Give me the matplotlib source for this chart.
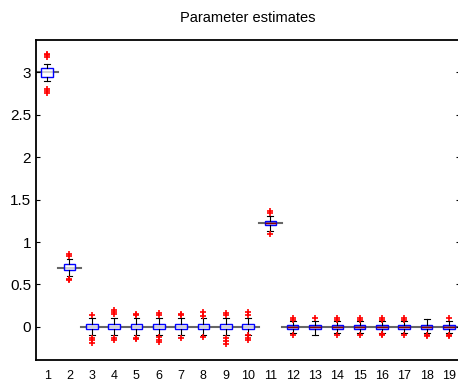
import numpy as np
import matplotlib
matplotlib.use('Agg')
from matplotlib import pyplot as plt

plt.rcParams['font.family'] = ['Liberation Sans', 'DejaVu Sans']

# parameter index, true value and box statistics
params = list(range(1, 20))
true_vals = [3.0, 0.7] + [0.0] * 8 + [1.22] + [0.0] * 8
medians = [3.0, 0.705, 0.0, 0.0, 0.0, 0.0, 0.0, 0.0, 0.0, 0.0,
           1.22, 0.0, 0.0, 0.0, 0.0, 0.0, 0.0, 0.0, 0.0]
q1 = [2.95, 0.665, -0.03, -0.03, -0.03, -0.03, -0.03, -0.03, -0.03, -0.03,
      1.195, -0.02, -0.02, -0.02, -0.02, -0.02, -0.02, -0.02, -0.02]
q3 = [3.05, 0.745, 0.03, 0.03, 0.03, 0.03, 0.03, 0.03, 0.03, 0.03,
      1.25, 0.02, 0.02, 0.02, 0.02, 0.02, 0.02, 0.02, 0.02]
wlo = [2.9, 0.6, -0.1, -0.1, -0.1, -0.1, -0.1, -0.1, -0.1, -0.1,
       1.13, -0.07, -0.09, -0.07, -0.07, -0.07, -0.07, -0.07, -0.07]
whi = [3.1, 0.8, 0.1, 0.1, 0.1, 0.1, 0.1, 0.1, 0.1, 0.1,
       1.31, 0.07, 0.07, 0.07, 0.07, 0.07, 0.07, 0.09, 0.07]
fliers = [
    [3.18, 3.2, 3.22, 2.8, 2.78, 2.76],
    [0.83, 0.86, 0.57, 0.55],
    [0.14, -0.13, -0.16, -0.19],
    [0.15, 0.17, 0.2, -0.13, -0.15],
    [0.14, 0.15, -0.13, -0.14],
    [0.14, 0.16, -0.12, -0.15, -0.18],
    [0.14, 0.15, -0.13],
    [0.13, 0.17, -0.12],
    [0.14, 0.16, -0.13, -0.17, -0.2],
    [0.14, 0.17, -0.1, -0.13, -0.15],
    [1.34, 1.36, 1.1],
    [0.08, 0.1, -0.1],
    [0.1],
    [0.08, 0.1, -0.1],
    [0.08, 0.1, -0.1],
    [0.08, 0.1, -0.08, -0.1],
    [0.08, 0.11, -0.1],
    [-0.09, -0.11],
    [0.1, -0.09, -0.11],
]
groups = [[1], [2], list(range(3, 11)), [11], list(range(12, 20))]

fig = plt.figure(figsize=(4.58, 3.83), dpi=100)
ax = fig.add_axes([0.0786, 0.06, 0.926, 0.8355])

# true value lines
for g in groups:
    v = true_vals[g[0] - 1]
    ax.plot([g[0] - 0.5, g[-1] + 0.5], [v, v], color='#333333', lw=1.5,
            alpha=0.75, zorder=1)

stats = []
for i in range(len(params)):
    stats.append(dict(med=medians[i], q1=q1[i], q3=q3[i], whislo=wlo[i],
                      whishi=whi[i], fliers=fliers[i]))

bp = ax.bxp(stats, positions=params, widths=0.52, patch_artist=True,
            boxprops=dict(edgecolor='blue', linewidth=1.0),
            whiskerprops=dict(color='black', linewidth=0.8),
            capprops=dict(color='black', linewidth=0.8),
            medianprops=dict(color='#8b0000', linewidth=1.0),
            flierprops=dict(marker='+', markeredgecolor='red',
                            markersize=5, markeredgewidth=1.2))
for i, b in enumerate(bp['boxes']):
    if i >= 10:
        b.set_facecolor((0.5, 0.5, 1.0, 0.45))
    else:
        b.set_facecolor((1, 1, 1, 0.7))
    b.set_zorder(2)
for i, m in enumerate(bp['medians']):
    m.set_zorder(3)
    if i < 10:
        m.set_visible(False)

ax.set_xlim(0.5, 19.5)
ax.set_ylim(-0.39, 3.38)
ax.set_xticks(params)
ax.set_xticklabels([str(p) for p in params], fontsize=9)
ax.tick_params(axis='x', length=0, pad=7)
ax.set_yticks([0, 0.5, 1, 1.5, 2, 2.5, 3])
ax.set_yticklabels(['0', '0.5', '1', '1.5', '2', '2.5', '3'], fontsize=11)
ax.tick_params(axis='y', direction='in', length=3, right=True)
for s in ax.spines.values():
    s.set_linewidth(1.3)
ax.set_title('Parameter estimates', fontsize=10.5, pad=13)

fig.savefig('out.png', dpi=100)
